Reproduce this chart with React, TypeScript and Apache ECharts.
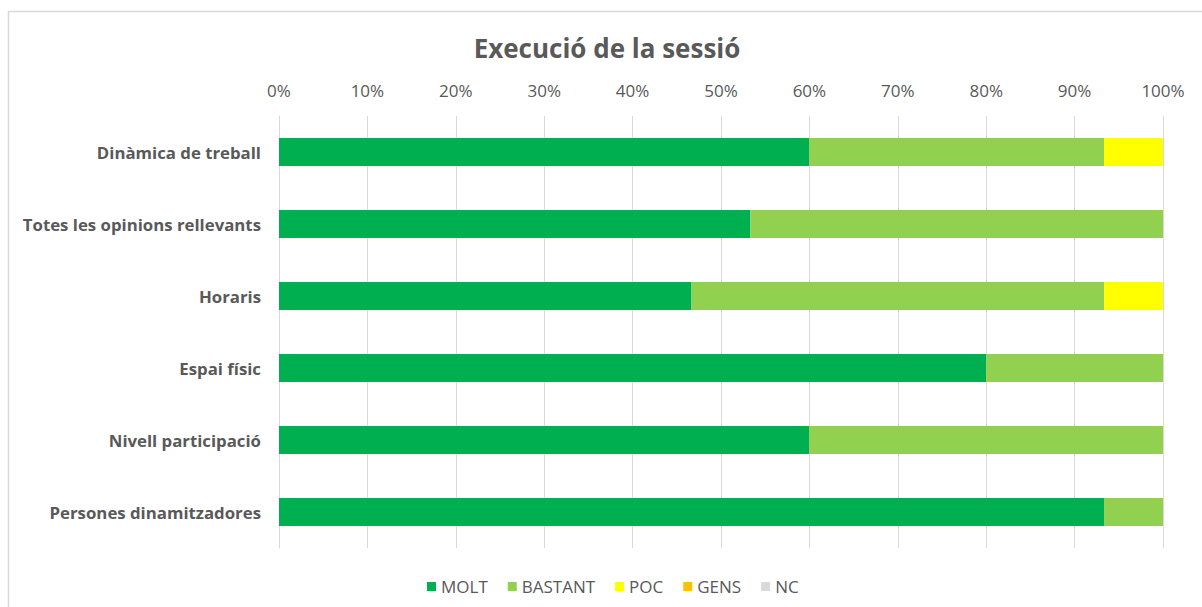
import React, { useEffect, useRef } from "react";
import * as echarts from "echarts";

const categories = [
  "Dinàmica de treball",
  "Totes les opinions rellevants",
  "Horaris",
  "Espai físic",
  "Nivell participació",
  "Persones dinamitzadores",
];
const molt = [60, 53.33, 46.67, 80, 60, 93.33];
const bastant = [33.33, 46.67, 46.67, 20, 40, 6.67];
const poc = [6.67, 0, 6.67, 0, 0, 0];
const gens = [0, 0, 0, 0, 0, 0];
const nc = [0, 0, 0, 0, 0, 0];
const seriesNames = ["MOLT", "BASTANT", "POC", "GENS", "NC"];
const seriesColors = ["#00B050", "#92D050", "#FFFF00", "#FFC000", "#D9D9D9"];
const xTicks = [0, 10, 20, 30, 40, 50, 60, 70, 80, 90, 100];

const FONT = "'Open Sans', 'Noto Sans', sans-serif";

export default function App() {
  const ref = useRef<HTMLDivElement>(null);
  useEffect(() => {
    if (!ref.current) return;
    const chart = echarts.init(ref.current, undefined, { renderer: "svg" });
    const data = [molt, bastant, poc, gens, nc];
    chart.setOption({
      animation: false,
      backgroundColor: "#ffffff",
      textStyle: { fontFamily: FONT },
      title: {
        text: "Execució de la sessió",
        left: 602,
        top: 30,
        textAlign: "center",
        textStyle: { fontFamily: FONT, fontSize: 26, fontWeight: "bold", color: "#595959" },
      },
      graphic: [
        {
          type: "rect",
          shape: { x: 8.5, y: 11.5, width: 1300, height: 700 },
          style: { fill: "none", stroke: "#D9D9D9", lineWidth: 1.5 },
          silent: true,
        },
      ],
      legend: {
        bottom: 7,
        left: 422,
        itemWidth: 9,
        itemHeight: 9,
        itemGap: 20,
        icon: "rect",
        data: seriesNames,
        textStyle: { fontFamily: FONT, fontSize: 17, color: "#595959" },
      },
      grid: { left: 279, right: 39, top: 116, bottom: 59 },
      xAxis: {
        type: "value",
        position: "top",
        min: xTicks[0],
        max: xTicks[xTicks.length - 1],
        interval: 10,
        axisLine: { show: false },
        axisTick: { show: false },
        splitLine: { lineStyle: { color: "#D9D9D9", width: 1 } },
        axisLabel: {
          formatter: "{value}%",
          fontFamily: FONT,
          fontSize: 17,
          color: "#595959",
          margin: 17,
        },
      },
      yAxis: {
        type: "category",
        inverse: true,
        data: categories,
        axisLine: { show: true, lineStyle: { color: "#D9D9D9" } },
        axisTick: { show: false },
        axisLabel: {
          fontFamily: FONT,
          fontSize: 16.8,
          fontWeight: "bold",
          color: "#595959",
          margin: 18,
        },
      },
      series: seriesNames.map((name, i) => ({
        name,
        type: "bar",
        stack: "total",
        barWidth: 28,
        itemStyle: { color: seriesColors[i] },
        data: data[i],
      })),
    });
    return () => chart.dispose();
  }, []);
  return (
    <div
      ref={ref}
      style={{ position: "absolute", left: 0, top: 0, width: 1202, height: 607 }}
    />
  );
}
